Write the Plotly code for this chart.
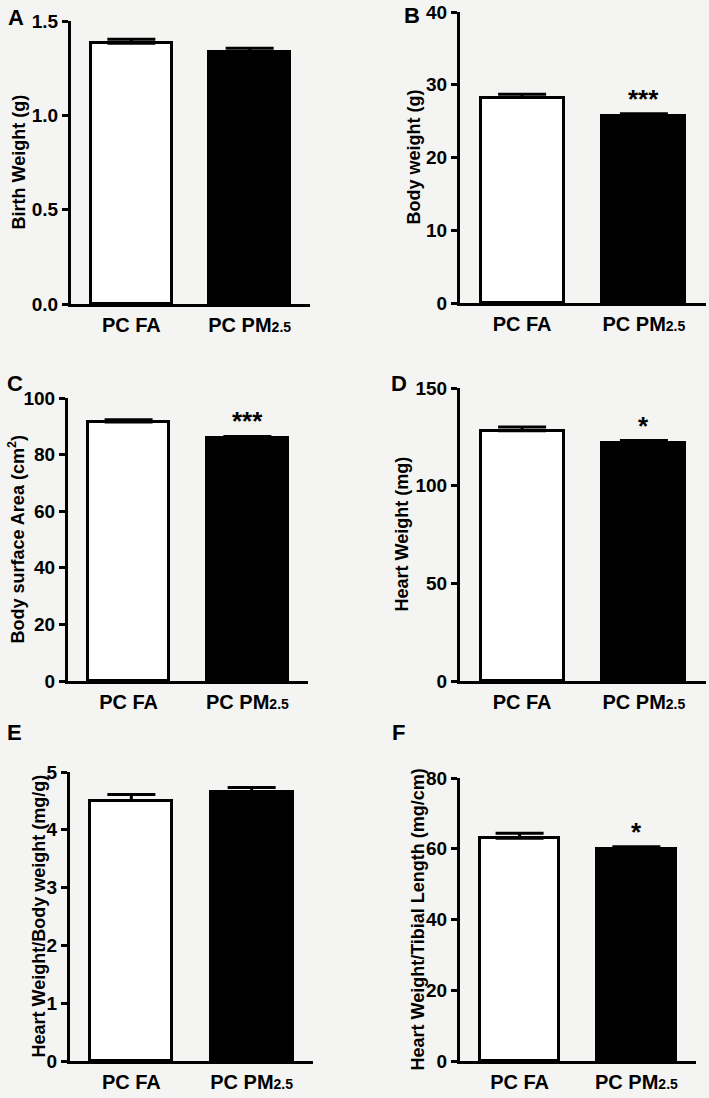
import plotly.graph_objects as go

W, H = 709, 1098

groups = ["PC FA", "PC PM<span style='font-size:14px'>2.5</span>"]

birth_weight = [1.382, 1.337]
birth_weight_sem = [0.021, 0.018]
body_weight = [28.24, 25.68]
body_weight_sem = [0.46, 0.32]
surface_area = [91.5, 85.7]
surface_area_sem = [0.8, 0.7]
heart_weight = [128.1, 121.8]
heart_weight_sem = [1.9, 1.3]
hw_bw = [4.506, 4.66]
hw_bw_sem = [0.104, 0.07]
hw_tl = [63.0, 59.9]
hw_tl_sem = [1.4, 0.7]

panels = [
    dict(letter="A", title="Birth Weight (g)", vals=birth_weight, sem=birth_weight_sem,
         ymax=1.5, dtick=0.5, fmt=".1f", stars=""),
    dict(letter="B", title="Body weight (g)", vals=body_weight, sem=body_weight_sem,
         ymax=40, dtick=10, fmt="d", stars="***"),
    dict(letter="C", title="Body surface Area (cm<sup>2</sup>)", vals=surface_area, sem=surface_area_sem,
         ymax=100, dtick=20, fmt="d", stars="***"),
    dict(letter="D", title="Heart Weight (mg)", vals=heart_weight, sem=heart_weight_sem,
         ymax=150, dtick=50, fmt="d", stars="*"),
    dict(letter="E", title="Heart Weight/Body weight (mg/g)", vals=hw_bw, sem=hw_bw_sem,
         ymax=5, dtick=1, fmt="d", stars=""),
    dict(letter="F", title="Heart Weight/Tibial Length (mg/cm)", vals=hw_tl, sem=hw_tl_sem,
         ymax=80, dtick=20, fmt="d", stars="*"),
]

# screen geometry in pixels: (x_left, x_right, y_top, y_bottom, title_x, letter_x, letter_y)
geom = [
    (71, 310, 21, 304, 18, 16, 17),
    (460, 706, 12, 303, 413, 412, 15),
    (68, 308, 398, 681, 17, 15, 383),
    (460, 706, 388, 681, 401, 399, 383),
    (70, 313, 772, 1061, 38, 15, 732),
    (460, 696, 778, 1061, 417, 398, 732),
]


def px(x):
    return x / W


def py(y):
    return 1 - y / H


FONT = "Liberation Sans, Arial, sans-serif"
fig = go.Figure()
annotations = []

for i, (p, g) in enumerate(zip(panels, geom)):
    n = i + 1
    xa = "x" if n == 1 else f"x{n}"
    ya = "y" if n == 1 else f"y{n}"
    xl, xr, yt, yb, tx, lx, ly = g
    fig.add_trace(go.Bar(
        x=[0, 1], y=p["vals"], width=0.68,
        marker=dict(color=["white", "black"], line=dict(color="black", width=3)),
        error_y=dict(type="data", symmetric=False, array=p["sem"], arrayminus=[0, 0],
                     color="black", thickness=3, width=24),
        xaxis=xa, yaxis=ya, showlegend=False,
    ))
    xkey = "xaxis" if n == 1 else f"xaxis{n}"
    ykey = "yaxis" if n == 1 else f"yaxis{n}"
    fig.layout[xkey] = dict(
        domain=[px(xl), px(xr)], range=[-0.51, 1.51], anchor=ya, automargin=False,
        tickvals=[0, 1], ticktext=groups, showline=True, linecolor="black", linewidth=3,
        ticks="", showgrid=False, zeroline=False, ticklabelstandoff=1,
        ticklabeloverflow="allow",
        tickfont=dict(family=FONT, size=20, color="black", weight="bold"), fixedrange=True,
    )
    fig.layout[ykey] = dict(
        domain=[py(yb), py(yt)], range=[0, p["ymax"]], anchor=xa, automargin=False,
        dtick=p["dtick"], tick0=0, tickformat=p["fmt"], showline=True, linecolor="black",
        linewidth=3, ticks="outside", ticklen=6, tickwidth=3, tickcolor="black",
        showgrid=False, zeroline=False, ticklabeloverflow="allow",
        tickfont=dict(family=FONT, size=19, color="black", weight="bold"), fixedrange=True,
    )
    annotations.append(dict(
        text=p["title"], textangle=-90, xref="paper", yref="paper",
        x=px(tx), y=py((yt + yb) / 2), xanchor="center", yanchor="middle",
        showarrow=False, font=dict(family=FONT, size=18, color="black", weight="bold"),
    ))
    annotations.append(dict(
        text=p["letter"], xref="paper", yref="paper", x=px(lx), y=py(ly),
        xanchor="center", yanchor="middle", showarrow=False,
        font=dict(family=FONT, size=22, color="black", weight="bold"),
    ))
    if p["stars"]:
        annotations.append(dict(
            text=p["stars"], xref=xa, yref=ya, x=1, y=p["vals"][1] + p["sem"][1],
            xanchor="center", yanchor="bottom", yshift=-2, showarrow=False,
            font=dict(family=FONT, size=26, color="black", weight="bold"),
        ))

fig.update_layout(
    width=W, height=H, margin=dict(l=0, r=0, t=0, b=0, autoexpand=False),
    paper_bgcolor="#f4f4f2", plot_bgcolor="rgba(0,0,0,0)",
    annotations=annotations, bargap=0,
)

fig.write_html(
    "out.html",
    config={"displayModeBar": False},
    post_script="document.body.style.margin='0';document.body.style.overflow='hidden';",
)
